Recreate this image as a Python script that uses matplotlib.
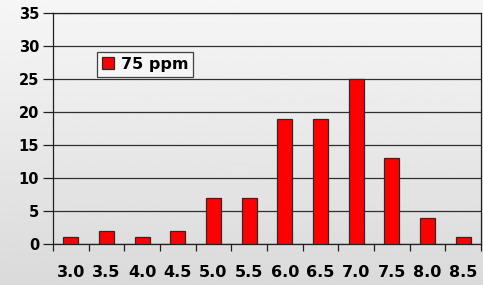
import numpy as np
import matplotlib
matplotlib.use("Agg")
import matplotlib.pyplot as plt

plt.rcParams['font.family'] = ['DejaVu Sans']

categories = ['3.0', '3.5', '4.0', '4.5', '5.0', '5.5', '6.0', '6.5', '7.0', '7.5', '8.0', '8.5']
counts = [1, 2, 1, 2, 7, 7, 19, 19, 25, 13, 4, 1]
series_name = '75 ppm'

fig = plt.figure(figsize=(4.83, 2.85), dpi=100)

# background gradient, light at top, greyer at bottom
bg = fig.add_axes([0, 0, 1, 1], zorder=0)
grad = np.linspace(0.965, 0.855, 256).reshape(-1, 1)
bg.imshow(grad, aspect='auto', cmap='gray', vmin=0, vmax=1, extent=[0, 1, 0, 1])
bg.set_axis_off()

W, H = 483, 285
left, right, top, bottom = 53, 481, 13, 244
ax = fig.add_axes([left / W, 1 - bottom / H, (right - left) / W, (bottom - top) / H], zorder=1)
ax.patch.set_alpha(0)

x = np.arange(len(categories))
ax.bar(x, counts, width=0.42, color='#ff0000', edgecolor='#2a2a2a', linewidth=0.9,
       label=series_name, zorder=3)

ax.set_xlim(-0.5, len(categories) - 0.5)
ax.set_ylim(0, 35)
ax.set_yticks(range(0, 36, 5))
ax.yaxis.grid(True, color='#303030', linewidth=0.9, zorder=1)
ax.set_axisbelow(True)

ax.set_xticks(x)
ax.set_xticklabels(categories, fontsize=11.5, fontweight='bold')
ax.set_xticks(np.arange(-0.5, len(categories), 1), minor=True)
ax.tick_params(axis='x', which='major', length=0, pad=15)
ax.tick_params(axis='x', which='minor', length=5, width=0.9, color='#202020', direction='out')
ax.tick_params(axis='y', length=7, width=0.9, color='#202020', labelsize=10.5, pad=3)
for lab in ax.get_yticklabels():
    lab.set_fontweight('bold')

for s in ['left', 'bottom', 'right', 'top']:
    ax.spines[s].set_color('#202020')
    ax.spines[s].set_linewidth(0.9)

leg = ax.legend(loc='upper left', bbox_to_anchor=((97 - left) / (right - left), 1 - (52 - top) / (bottom - top)),
                prop={'weight': 'bold', 'size': 11.5}, fancybox=False, framealpha=1,
                handlelength=0.75, handleheight=0.75, handletextpad=0.45, borderpad=0.3,
                borderaxespad=0)
leg.get_frame().set_edgecolor('#404040')
leg.get_frame().set_facecolor('#f6f6f6')
leg.get_frame().set_linewidth(0.9)

fig.savefig('out.png', dpi=100)
